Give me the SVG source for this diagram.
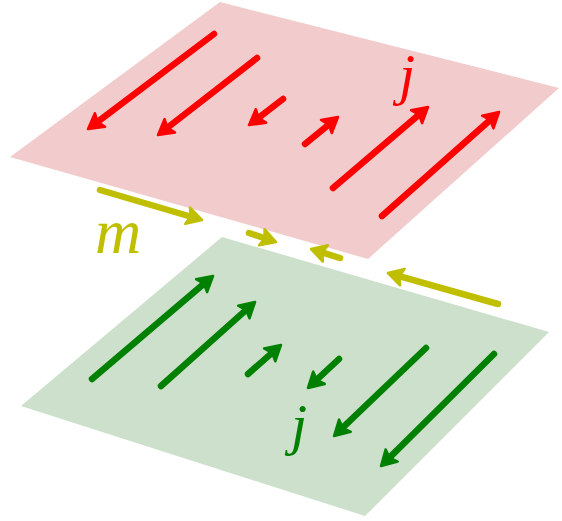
<svg xmlns="http://www.w3.org/2000/svg" width="562" height="521" viewBox="0 0 562 521">
<style>
.ar{fill:none;stroke-width:6.5;stroke-linecap:round}
.r{stroke:#ff0000}.g{stroke:#008000}.y{stroke:#bfbf00}
.lbl{font-family:"Liberation Serif",serif;font-style:italic}
</style>
<defs>
<marker id="mr" markerUnits="userSpaceOnUse" viewBox="-19 -12 22 24" markerWidth="22" markerHeight="24" refX="-7" refY="0" orient="auto">
<path d="M0,0 L-15,-8.5 L-12,0 L-15,8.5 Z" fill="#ff0000" stroke="#ff0000" stroke-width="2.5" stroke-linejoin="round"/>
</marker>
<marker id="mg" markerUnits="userSpaceOnUse" viewBox="-19 -12 22 24" markerWidth="22" markerHeight="24" refX="-7" refY="0" orient="auto">
<path d="M0,0 L-15,-8.5 L-12,0 L-15,8.5 Z" fill="#008000" stroke="#008000" stroke-width="2.5" stroke-linejoin="round"/>
</marker>
<marker id="my" markerUnits="userSpaceOnUse" viewBox="-19 -12 22 24" markerWidth="22" markerHeight="24" refX="-7" refY="0" orient="auto">
<path d="M0,0 L-15,-8.5 L-12,0 L-15,8.5 Z" fill="#bfbf00" stroke="#bfbf00" stroke-width="2.5" stroke-linejoin="round"/>
</marker>
</defs>
<g id="plane-bottom">
<polygon points="222,237 549,332 365,516 21,406" fill="#cce0cc"/>
</g>
<g id="plane-top">
<polygon points="220,2 559,88 368,259 10,157" fill="#f2cccc"/>
</g>
<g id="connectors">
<g id="red-arrows" class="ar r">
<path d="M214,34 L93.6,124.8" marker-end="url(#mr)"/>
<path d="M257,58 L163.5,130.7" marker-end="url(#mr)"/>
<path d="M283,99 L254.6,120.8" marker-end="url(#mr)"/>
<path d="M305,144 L332.6,121.4" marker-end="url(#mr)"/>
<path d="M333,188 L422.7,111.5" marker-end="url(#mr)"/>
<path d="M382,216 L493.8,116.7" marker-end="url(#mr)"/>
</g>
<g id="yellow-arrows" class="ar y">
<path d="M100,190 L195.3,218" marker-end="url(#my)"/>
<path d="M249,233 L269.4,239.8" marker-end="url(#my)"/>
<path d="M340,258 L317.7,251.1" marker-end="url(#my)"/>
<path d="M498,304 L394.7,274.9" marker-end="url(#my)"/>
</g>
<g id="green-arrows" class="ar g">
<path d="M92,379 L207.7,280.5" marker-end="url(#mg)"/>
<path d="M161,386 L249.8,306.7" marker-end="url(#mg)"/>
<path d="M248,374 L275.7,349.6" marker-end="url(#mg)"/>
<path d="M339,359 L313.1,383.2" marker-end="url(#mg)"/>
<path d="M426,348 L339.1,431.2" marker-end="url(#mg)"/>
<path d="M494,354 L386,461.1" marker-end="url(#mg)"/>
</g>
</g>
<g id="label-j-top"><text class="lbl" x="399" y="94" font-size="58" fill="#ff0000">j</text></g>
<g id="label-m"><text class="lbl" x="95" y="253" font-size="64" fill="#bfbf00">m</text></g>
<g id="label-j-bottom"><text class="lbl" x="291" y="444" font-size="58" fill="#008000">j</text></g>
</svg>
